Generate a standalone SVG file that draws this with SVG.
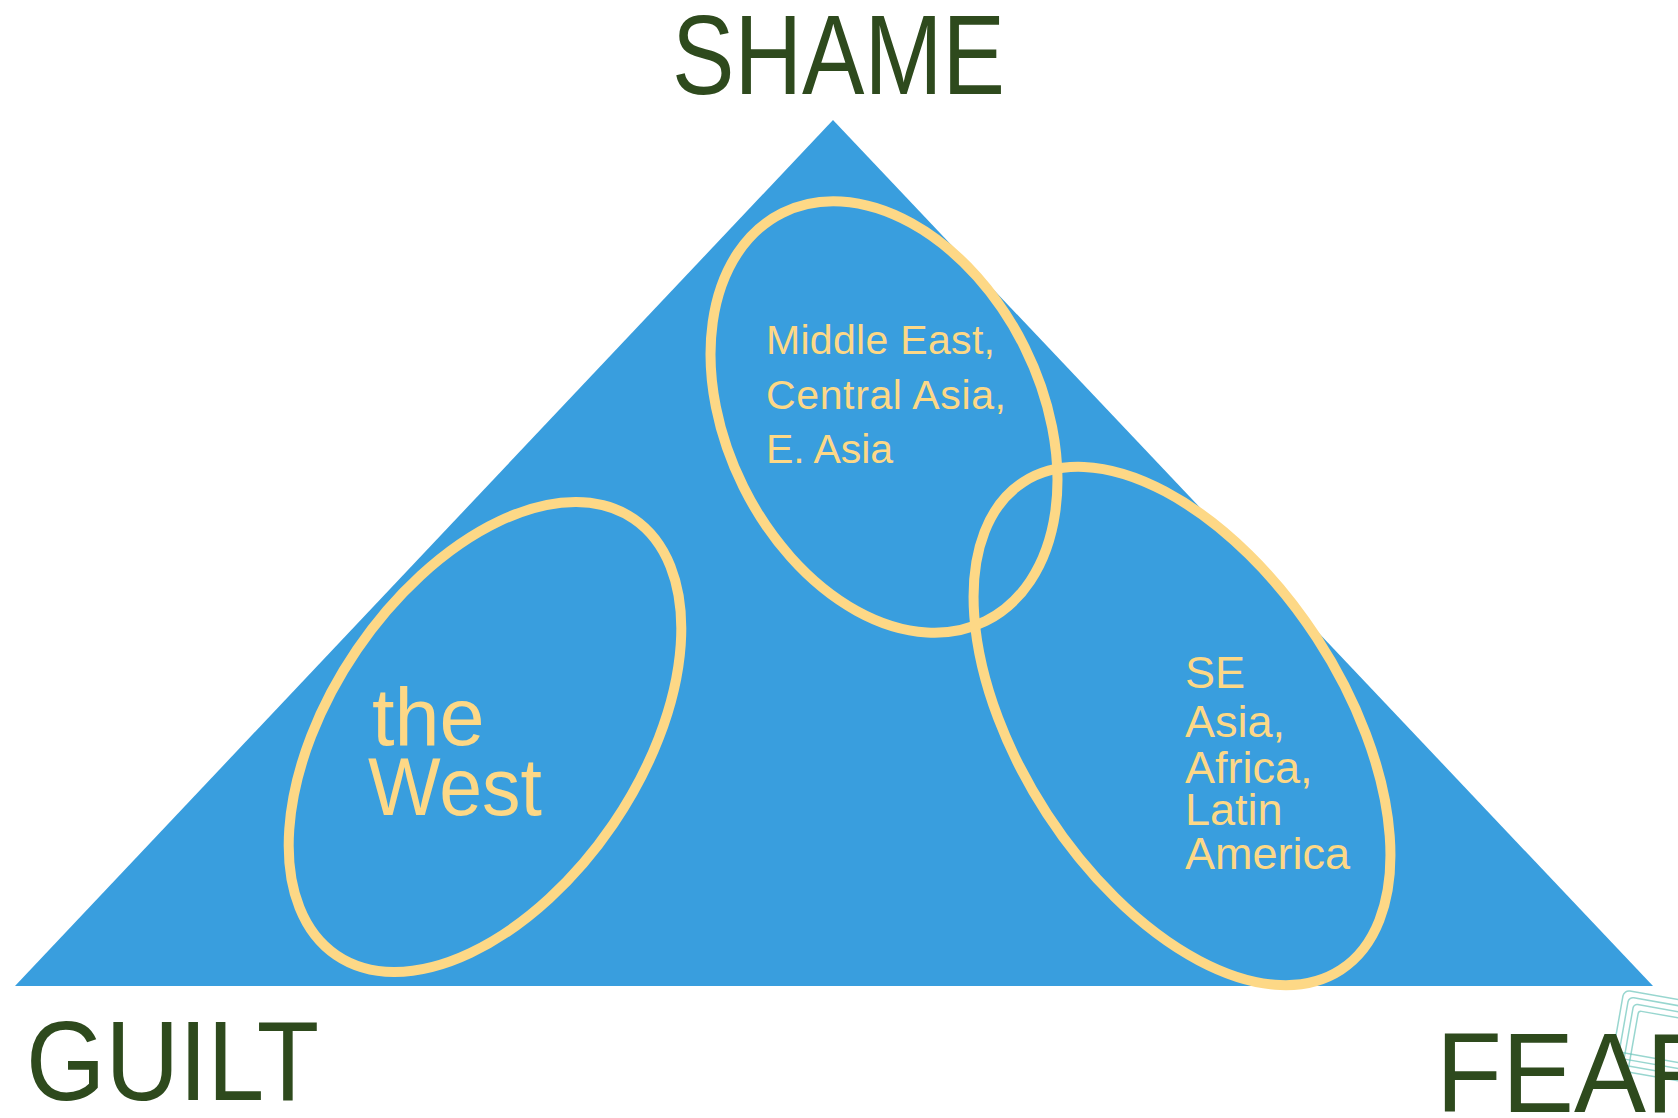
<svg xmlns="http://www.w3.org/2000/svg" width="1678" height="1118" viewBox="0 0 1678 1118">
  <defs>
    <style>
      .corner { font-family: "Liberation Sans", Arial, sans-serif; fill: #2e4a1d; font-size: 114px; }
      .region { fill: none; stroke: #fdd886; stroke-width: 10; }
      .lbl { font-family: "Liberation Sans", Arial, sans-serif; fill: #fdd886; }
      .deco { fill: none; stroke: #6cc5bb; stroke-width: 1.5; opacity: 0.7; }
    </style>
  </defs>
  <rect width="1678" height="1118" fill="#ffffff"/>

  <g id="triangle">
    <polygon points="833,120 15,986 1653,986" fill="#399ede"/>
  </g>

  <g id="decoration">
    <g transform="translate(1624,990) rotate(10)">
      <rect class="deco" x="0" y="0" width="110" height="62" rx="6"/>
      <rect class="deco" x="6" y="6" width="110" height="62" rx="5"/>
      <rect class="deco" x="12" y="12" width="110" height="62" rx="4"/>
      <rect class="deco" x="18" y="18" width="110" height="62" rx="3"/>
    </g>
  </g>

  <g id="label-shame">
    <text class="corner" x="672" y="94" font-size="113" textLength="333" lengthAdjust="spacingAndGlyphs">SHAME</text>
  </g>
  <g id="label-guilt">
    <text class="corner" x="26" y="1100" textLength="293" lengthAdjust="spacingAndGlyphs">GUILT</text>
  </g>
  <g id="label-fear">
    <text class="corner" x="1436" y="1112" textLength="288" lengthAdjust="spacingAndGlyphs">FEAR</text>
  </g>

  <g id="region-west">
    <ellipse class="region" cx="485" cy="737" rx="264" ry="155" transform="rotate(-55.7 485 737)"/>
    <text class="lbl" font-size="81" x="372" y="745">the</text>
    <text class="lbl" font-size="81" x="368" y="815" textLength="174" lengthAdjust="spacingAndGlyphs">West</text>
  </g>

  <g id="region-middle-east">
    <ellipse class="region" cx="884" cy="417" rx="228" ry="157" transform="rotate(63.5 884 417)"/>
    <text class="lbl" font-size="41" x="766" y="354" textLength="229" lengthAdjust="spacing">Middle East,</text>
    <text class="lbl" font-size="41" x="766" y="409" textLength="240" lengthAdjust="spacing">Central Asia,</text>
    <text class="lbl" font-size="41" x="766" y="463" textLength="127" lengthAdjust="spacing">E. Asia</text>
  </g>

  <g id="region-se-asia">
    <ellipse class="region" cx="1182" cy="726" rx="291" ry="161" transform="rotate(56.9 1182 726)"/>
    <text class="lbl" font-size="45">
      <tspan x="1185" y="688">SE</tspan>
      <tspan x="1185" y="737">Asia,</tspan>
      <tspan x="1185" y="783">Africa,</tspan>
      <tspan x="1185" y="825">Latin</tspan>
      <tspan x="1185" y="869">America</tspan>
    </text>
  </g>
</svg>
